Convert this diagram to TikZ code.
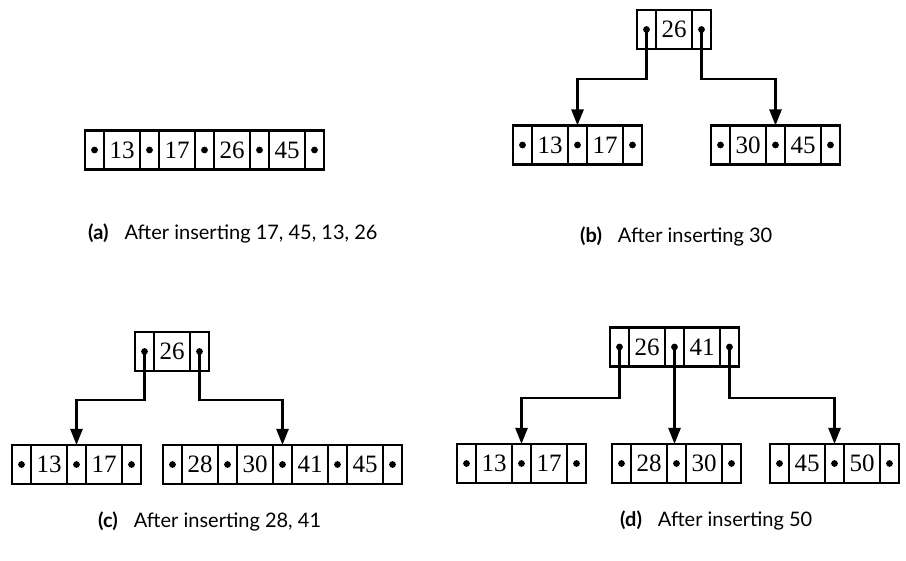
\documentclass[tikz,border=0pt]{standalone}
\usepackage{fontspec}
\newfontfamily\capfont{Lato}
\newfontfamily\keyfont{Liberation Serif}
\usetikzlibrary{arrows.meta}
\tikzset{
  cell/.style={draw, line width=2.4pt, minimum height=39pt, inner sep=0pt, outer sep=0pt, anchor=center},
  ptrcell/.style={cell, minimum width=19pt,
    path picture={\fill (path picture bounding box.center) circle (3.4pt);}},
  keycell/.style={cell, minimum width=36pt, font=\keyfont\fontsize{25}{25}\selectfont},
  link/.style={line width=2.4pt, -{Triangle[width=12pt,length=16pt]}},
  caption/.style={font=\capfont\fontsize{20}{20}\selectfont, anchor=base west, inner sep=0pt},
}
% #1 name, #2 left x, #3 centre y, #4 keys
\newcommand\bpnode[4]{%
  \foreach \k [count=\i] in {#4} {
    \node[ptrcell] (#1-p\i) at ({#2+(\i-1)*55+9.5},#3) {};
    \node[keycell] (#1-k\i) at ({#2+(\i-1)*55+37},#3) {\k};
    \xdef\lastcount{\i}
  }
  \pgfmathtruncatemacro\nn{\lastcount+1}
  \node[ptrcell] (#1-p\nn) at ({#2+\lastcount*55+9.5},#3) {};
}
\begin{document}
\begin{tikzpicture}[x=1pt,y=-1pt]
\useasboundingbox[fill=white] (0,0) rectangle (906,561);

% (a)
\bpnode{a}{85}{150}{13,17,26,45}
\node[caption] (cap-a) at (88,240) {\textbf{(a)}\hspace{16pt}After inserting 17, 45, 13, 26};

% (b)
\bpnode{br}{637}{29.5}{26}
\bpnode{bl}{513}{145}{13,17}
\bpnode{bm}{711}{145}{30,45}
\coordinate (b-elbow) at (0,79);
\draw[link] (br-p1.center) |- (bl-p2.north |- b-elbow) -- (bl-p2.north);
\draw[link] (br-p2.center) |- (bm-p2.north |- b-elbow) -- (bm-p2.north);
\node[caption] (cap-b) at (580,243) {\textbf{(b)}\hspace{16pt}After inserting 30};

% (c)
\bpnode{cr}{135}{351.5}{26}
\bpnode{cl}{12}{464.5}{13,17}
\bpnode{cm}{163}{464.5}{28,30,41,45}
\coordinate (c-elbow) at (0,400);
\draw[link] (cr-p1.center) |- (cl-p2.north |- c-elbow) -- (cl-p2.north);
\draw[link] (cr-p2.center) |- (cm-p3.north |- c-elbow) -- (cm-p3.north);
\node[caption] (cap-c) at (98,528) {\textbf{(c)}\hspace{16pt}After inserting 28, 41};

% (d)
\bpnode{dr}{610}{347}{26,41}
\bpnode{dl}{457}{463.5}{13,17}
\bpnode{dm}{612}{463.5}{28,30}
\bpnode{dn}{770}{463.5}{45,50}
\coordinate (d-elbow) at (0,398);
\draw[link] (dr-p1.center) |- (dl-p2.north |- d-elbow) -- (dl-p2.north);
\draw[link] (dr-p2.center) -- (dr-p2.center |- dm-p2.north);
\draw[link] (dr-p3.center) |- (dn-p2.north |- d-elbow) -- (dn-p2.north);
\node[caption] (cap-d) at (620,526) {\textbf{(d)}\hspace{16pt}After inserting 50};
\end{tikzpicture}
\end{document}
